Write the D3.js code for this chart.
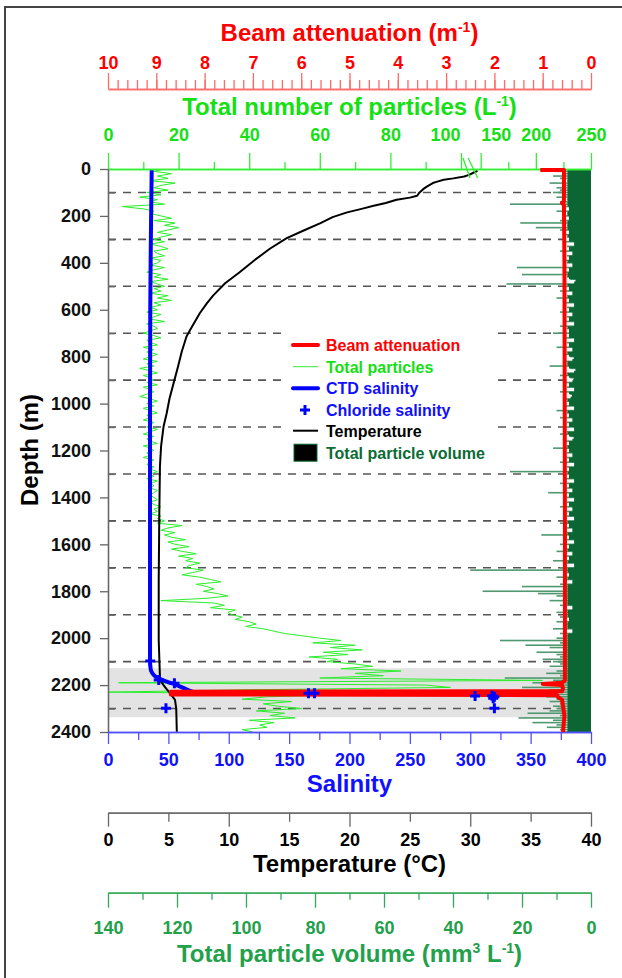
<!DOCTYPE html>
<html><head><meta charset="utf-8">
<script src="https://cdn.jsdelivr.net/npm/d3@7"></script>
<style>
body{margin:0;background:#fff}
svg{display:block}
text{font-family:"Liberation Sans",Arial,sans-serif;font-weight:bold}
</style>
</head><body>
<svg id="c" width="622" height="978"></svg>
<script>
// ---------------- DATA ----------------
const beamTickValues = [10, 9, 8, 7, 6, 5, 4, 3, 2, 1, 0];
const particleTickValues = [0, 20, 40, 60, 80, 100, 150, 200, 250];
const particleMinorTicks = [10, 30, 50, 70, 90, 175, 225];
const depthTickValues = [0, 200, 400, 600, 800, 1000, 1200, 1400, 1600, 1800, 2000, 2200, 2400];
const depthDashed = [100, 300, 500, 700, 900, 1100, 1300, 1500, 1700, 1900, 2100, 2300];
const salinityTickValues = [0, 50, 100, 150, 200, 250, 300, 350, 400];
const temperatureTickValues = [0, 5, 10, 15, 20, 25, 30, 35, 40];
const volumeTickValues = [140, 120, 100, 80, 60, 40, 20, 0];
const shadedDepths = [2128, 2337];

// Temperature profile [°C, depth m]
const temperature = [
  [30.6, 8], [30.3, 15], [29.9, 25], [29.5, 32], [28.6, 40], [27.8, 46], [27.2, 55], [26.9, 60],
  [26.4, 75], [26.1, 86], [25.8, 100], [25.6, 114], [25.0, 122], [23.9, 131], [23.0, 145],
  [22.0, 157], [21.0, 170], [19.8, 185], [18.6, 205], [17.6, 231], [16.3, 260], [14.8, 295],
  [13.4, 340], [12.0, 394], [10.9, 440], [9.7, 487], [8.7, 540], [8.2, 572], [7.6, 615],
  [6.8, 686], [6.5, 714], [6.1, 780], [5.8, 842], [5.5, 900], [5.1, 977], [4.86, 1041],
  [4.6, 1098], [4.4, 1180], [4.3, 1269], [4.25, 1467], [4.2, 1752], [4.2, 2008], [4.3, 2163],
  [4.4, 2185], [4.6, 2200], [4.9, 2220], [5.15, 2235], [5.55, 2263], [5.65, 2300], [5.7, 2400]
];

// CTD salinity [salinity, depth m]
const ctdSalinity = [
  [36.2, 0], [35.5, 300], [35.0, 600], [34.8, 1000], [34.8, 1500], [34.8, 2000], [34.8, 2094],
  [35.3, 2130], [36.0, 2143], [38.5, 2160], [41.7, 2171], [48.6, 2185], [56.9, 2200],
  [65, 2218], [70, 2228], [75, 2232], [80, 2233]
];

// Chloride salinity [salinity, depth m]
const chlorideSalinity = [
  [35, 2097], [42, 2178], [55, 2192], [48, 2299], [166, 2235], [171, 2235],
  [304, 2247], [318, 2245], [320, 2250], [319, 2256], [320, 2299]
];

// Beam attenuation [m-1, depth m]
const beamAttenuation = [
  [1.05, 4], [0.56, 4], [0.56, 138], [0.6, 145], [0.56, 152], [0.55, 400], [0.54, 1500],
  [0.54, 2180], [0.6, 2190], [1.0, 2195], [0.6, 2200], [0.58, 2215], [0.6, 2226],
  [8.7, 2228], [8.7, 2240], [0.7, 2243], [0.68, 2252], [0.6, 2262], [0.55, 2330], [0.58, 2400]
];

// Sampling grid (m) for the particle profiles
const depthGrid = d3.range(0, 2401, 10);

// Total number of particles (L-1), one value per 10 m
const totalParticles = [
  16, 13, 18, 14, 17, 12, 19, 15, 13, 17,
  11, 15, 9, 14, 12, 16, 4, 10, 13, 12,
  15, 18, 13, 19, 16, 20, 17, 14, 18, 15,
  13, 16, 12, 15, 17, 13, 14, 16, 12, 15,
  14, 12, 16, 13, 11, 15, 13, 17, 12, 14,
  16, 13, 15, 12, 17, 14, 18, 13, 15, 12,
  14, 11, 15, 13, 12, 16, 11, 13, 14, 12,
  10, 13, 15, 11, 12, 14, 10, 13, 11, 14,
  12, 10, 14, 11, 13, 9, 12, 14, 10, 12,
  13, 11, 14, 10, 12, 13, 11, 9, 12, 14,
  11, 13, 10, 12, 14, 11, 12, 10, 13, 12,
  11, 14, 12, 10, 13, 11, 12, 14, 10, 12,
  13, 11, 12, 10, 13, 12, 11, 13, 12, 14,
  12, 13, 11, 14, 12, 13, 12, 14, 13, 12,
  13, 14, 12, 13, 15, 13, 14, 12, 15, 14,
  16, 14, 21, 17, 15, 19, 16, 18, 22, 17,
  19, 23, 18, 21, 25, 20, 24, 22, 26, 23,
  22, 27, 24, 21, 26, 29, 32, 25, 28, 30,
  27, 31, 34, 28, 15, 30, 33, 29, 36, 34,
  35, 38, 36, 40, 42, 39, 44, 47, 50, 55,
  60, 66, 58, 70, 63, 72, 61, 68, 57, 65,
  62, 70, 75, 66, 83, 70, 78, 60, 206, 3,
  90, 97, 40, 0, 70, 45, 38, 52, 44, 48,
  55, 42, 50, 46, 53, 40, 47, 43, 45, 38,
  41
];

// Total particle volume (mm3 L-1), one value per 10 m
const particleVolume = [
  7, 10, 8, 11, 9, 7, 12, 8, 10, 9,
  11, 8, 10, 7, 9, 23.5, 8, 6, 10, 7,
  8, 6, 9, 20.5, 7, 16, 9, 6, 8, 7,
  6, 8, 3, 7, 6, 9, 4, 7, 6, 8,
  7, 4, 21.5, 6, 8, 20, 7, 6, 3, 24.5,
  8, 6, 9, 4, 7, 10, 6, 8, 3, 7,
  6, 9, 4, 7, 6, 8, 3, 9, 7, 6,
  11, 6, 8, 3, 7, 6, 10, 4, 7, 8,
  6, 4, 8, 7, 12, 6, 3, 7, 9, 6,
  4, 8, 6, 7, 3, 9, 6, 5, 8, 7,
  6, 8, 3, 10, 7, 6, 9, 4, 7, 6,
  8, 3, 7, 9, 6, 4, 8, 6, 7, 11,
  6, 7, 4, 8, 6, 9, 3, 7, 6, 23.5,
  7, 6, 8, 3, 9, 6, 7, 4, 12.4, 6,
  8, 3, 7, 6, 9, 4, 8, 6, 7, 3,
  7, 9, 6, 8, 4, 7, 14.4, 6, 8, 3,
  9, 6, 7, 10, 4, 8, 6, 11, 7, 3,
  9, 35, 7, 6, 10, 8, 4, 9, 20, 7,
  31.4, 15.4, 10, 8, 12, 7, 9, 4, 8, 10,
  7, 9, 6, 10, 8, 7, 11, 4, 9, 8,
  10, 26.4, 9, 19, 12, 8, 15.8, 10, 9, 14,
  11, 9, 12, 8, 10, 13, 9, 25, 11, 17,
  10, 20, 12, 9, 11, 13, 10, 12, 9, 11,
  10, 12, 18.4, 9, 21, 11, 17, 10, 12.8, 9,
  8
];

const legendItems = [
  {label: "Beam attenuation", color: "#ff0000", type: "thick", stroke: "#ff0000"},
  {label: "Total particles", color: "#14e014", type: "thin", stroke: "#33ee33"},
  {label: "CTD salinity", color: "#1010ff", type: "thick", stroke: "#0000ff"},
  {label: "Chloride salinity", color: "#1010ff", type: "cross", stroke: "#0000ff"},
  {label: "Temperature", color: "#000000", type: "medium", stroke: "#000000"},
  {label: "Total particle volume", color: "#0b6b35", type: "box", stroke: "#000000"}
];

// ---------------- CHART ----------------
const FONT = '"Liberation Sans",Arial,sans-serif';
const svg = d3.select('#c');
const L = 108, R = 591, T = 169, B = 732;
const CX = (L + R) / 2;

const y = d3.scaleLinear().domain([0, 2400]).range([T, B]);
const xSal = d3.scaleLinear().domain([0, 400]).range([L, R]);
const xTemp = d3.scaleLinear().domain([0, 40]).range([L, R]);
const xBeam = d3.scaleLinear().domain([10, 0]).range([L, R]);
const xVol = d3.scaleLinear().domain([140, 0]).range([L, R]);
const xPart = d3.scaleLinear().domain([0, 100, 150, 250])
  .range([L, L + (R - L) * 0.7308, L + (R - L) * 0.7716, R]);

// frame
svg.append('path').attr('d', 'M5,978V7H622').attr('fill', 'none')
  .attr('stroke', '#444').attr('stroke-width', 2);

// clip
svg.append('clipPath').attr('id', 'plot').append('rect')
  .attr('x', L).attr('y', T).attr('width', R - L).attr('height', B - T);

const plot = svg.append('g').attr('clip-path', 'url(#plot)');

// shaded band
plot.append('rect').attr('x', L).attr('width', R - L)
  .attr('y', y(shadedDepths[0])).attr('height', y(shadedDepths[1]) - y(shadedDepths[0]))
  .attr('fill', '#e3e3e3');

// dashed lines
plot.selectAll('line.dash').data(depthDashed).join('line').attr('class', 'dash')
  .attr('x1', L).attr('x2', R).attr('y1', d => y(d)).attr('y2', d => y(d))
  .attr('stroke', '#555').attr('stroke-width', 1.6).attr('stroke-dasharray', '8,7');

// legend background
const LG = {x: 284, y: 326, w: 213, h: 140};
svg.append('rect').attr('x', LG.x).attr('y', LG.y).attr('width', LG.w).attr('height', LG.h).attr('fill', '#fff');

// particle volume: thin light bars at every sample + dark dense core
plot.append('g').selectAll('rect').data(particleVolume).join('rect')
  .attr('x', d => xVol(d)).attr('width', d => xVol(0) - xVol(d))
  .attr('y', (d, i) => y(depthGrid[i]) - 0.8).attr('height', 1.6)
  .attr('fill', '#4f9870');
const coreCap = 6.8;
plot.append('path').datum(particleVolume)
  .attr('d', d3.area().curve(d3.curveStep)
    .y((d, i) => y(depthGrid[i]))
    .x0(xVol(0)).x1(d => xVol(Math.min(d, coreCap))))
  .attr('fill', '#0b6634');

// total particles
plot.append('path').datum(totalParticles)
  .attr('d', d3.line().x(d => xPart(d)).y((d, i) => y(depthGrid[i])))
  .attr('fill', 'none').attr('stroke', '#2bee2b').attr('stroke-width', 1);

// temperature
plot.append('path').datum(temperature)
  .attr('d', d3.line().x(d => xTemp(d[0])).y(d => y(d[1])))
  .attr('fill', 'none').attr('stroke', '#000').attr('stroke-width', 2).attr('stroke-linejoin', 'round');

// CTD salinity
plot.append('path').datum(ctdSalinity)
  .attr('d', d3.line().x(d => xSal(d[0])).y(d => y(d[1])).curve(d3.curveMonotoneY))
  .attr('fill', 'none').attr('stroke', '#0000ff').attr('stroke-width', 4).attr('stroke-linejoin', 'round');

// ---------------- AXES ----------------
function styleText(sel, size, color, weight) {
  sel.attr('font-size', size).attr('font-family', FONT).attr('font-weight', weight || 'bold').attr('fill', color);
}
function makeAxis(transform, axisFn, scale, majors, minors, majLen, minLen, pad, lineColor, textColor, minorPad) {
  const g = svg.append('g').attr('transform', transform);
  const gmin = g.append('g').call(axisFn(scale).tickValues(minors).tickSizeInner(minLen).tickSizeOuter(0)
    .tickPadding(minorPad == null ? 3 : minorPad).tickFormat(minorPad == null ? () => '' : d3.format('d')));
  const gmaj = g.append('g').call(axisFn(scale).tickValues(majors).tickSizeInner(majLen).tickSizeOuter(0)
    .tickPadding(pad).tickFormat(d3.format('d')));
  g.selectAll('path.domain').attr('stroke', lineColor).attr('stroke-width', 1.3);
  g.selectAll('.tick line').attr('stroke', lineColor).attr('stroke-width', 1.3);
  styleText(gmaj.selectAll('text'), 18, textColor);
  styleText(gmin.selectAll('text'), 18, textColor, 'normal');
  return {g, gmaj, gmin};
}

// beam (top)
makeAxis('translate(0,89)', d3.axisTop, xBeam, beamTickValues, d3.range(0.2, 10, 0.2), 16, 9, 4.5, '#ff6a6a', '#ff0000');
// particles (top of plot)
const pa = makeAxis(`translate(0,${T})`, d3.axisTop, xPart, particleTickValues, particleMinorTicks, 16, 7, 12.5, '#33ee33', '#14e014');
pa.gmaj.selectAll('.tick text').each(function (d) {
  if (d === 100) d3.select(this).attr('text-anchor', 'end').attr('x', -1);
  if (d === 150) d3.select(this).attr('text-anchor', 'start').attr('x', 0);
});
// axis break marks
{
  const xa = xPart(100), xb = xPart(150);
  svg.append('path')
    .attr('d', `M${xa + 2},${T - 11}L${xa + 9},${T + 9}M${xb - 12.5},${T - 11}L${xb - 3},${T + 9}`)
    .attr('stroke', '#33ee33').attr('stroke-width', 1.3).attr('fill', 'none');
}
// depth (left)
makeAxis(`translate(${L},0)`, d3.axisLeft, y, depthTickValues, depthDashed, 8, -7, 9, '#666', '#111');
// salinity (bottom of plot)
makeAxis(`translate(0,${B})`, d3.axisBottom, xSal, salinityTickValues, d3.range(25, 400, 50), 12, 8, 9.7, '#5050ff', '#1010ff');
// temperature
makeAxis('translate(0,812.7)', d3.axisBottom, xTemp, temperatureTickValues.filter(d => d % 10 === 0),
  temperatureTickValues.filter(d => d % 10 !== 0), 14, 9, 7, '#666', '#000', 12);
// volume
makeAxis('translate(0,892.7)', d3.axisBottom, xVol, volumeTickValues, d3.range(10, 140, 20), 15, 7, 14, '#33a85a', '#22a04a');

// beam attenuation (drawn above the axes so the surface segment shows fully)
svg.append('path').datum(beamAttenuation)
  .attr('d', d3.line().x(d => xBeam(d[0])).y(d => y(d[1])))
  .attr('fill', 'none').attr('stroke', '#ff0000').attr('stroke-width', 4).attr('stroke-linejoin', 'round');

// chloride salinity crosses
svg.append('g').selectAll('path').data(chlorideSalinity).join('path')
  .attr('transform', d => `translate(${xSal(d[0])},${y(d[1])})`)
  .attr('d', 'M-5,0H5M0,-5V5').attr('stroke', '#0000ff').attr('stroke-width', 3);

// ---------------- TITLES ----------------
function title(x, yb, color, parts) {
  const t = svg.append('text').attr('x', x).attr('y', yb).attr('text-anchor', 'middle');
  styleText(t, 24, color);
  parts.forEach(p => {
    const s = t.append('tspan').text(p.t);
    if (p.sup) s.attr('font-size', 14).attr('dy', -9);
    if (p.after) s.attr('dy', 9);
  });
  return t;
}
title(CX, 41, '#ff0000', [{t: 'Beam attenuation (m'}, {t: '-1', sup: true}, {t: ')', after: true}]);
title(CX, 115, '#14e014', [{t: 'Total number of particles (L'}, {t: '-1', sup: true}, {t: ')', after: true}]);
title(CX, 792, '#1010ff', [{t: 'Salinity'}]);
title(CX, 872, '#000', [{t: 'Temperature (°C)'}]);
title(CX, 962, '#22a04a', [{t: 'Total particle volume (mm'}, {t: '3', sup: true}, {t: ' L', after: true}, {t: '-1', sup: true}, {t: ')', after: true}]);
{
  const t = svg.append('text').attr('transform', 'translate(38,450) rotate(-90)').attr('text-anchor', 'middle').text('Depth (m)');
  styleText(t, 24, '#000');
}

// ---------------- LEGEND ----------------
const rowY = [345, 366.7, 388.3, 410, 430.7, 452.7];
const lg = svg.append('g');
legendItems.forEach((it, i) => {
  const cy = rowY[i];
  if (it.type === 'thick' || it.type === 'thin' || it.type === 'medium') {
    lg.append('line').attr('x1', 293).attr('x2', 318).attr('y1', cy).attr('y2', cy)
      .attr('stroke', it.stroke).attr('stroke-width', it.type === 'thick' ? 4 : it.type === 'thin' ? 1 : 2)
      .attr('stroke-linecap', it.type === 'thick' ? 'round' : 'butt');
  } else if (it.type === 'cross') {
    lg.append('path').attr('transform', `translate(305,${cy})`).attr('d', 'M-5,0H5M0,-5V5')
      .attr('stroke', it.stroke).attr('stroke-width', 3);
  } else {
    lg.append('rect').attr('x', 294).attr('y', cy - 8.5).attr('width', 23).attr('height', 17)
      .attr('fill', '#000').attr('stroke', '#0b6b35').attr('stroke-width', 1);
  }
  const t = lg.append('text').attr('x', 326).attr('y', cy + 5.8).text(it.label);
  styleText(t, 16, it.color);
});
</script>
</body></html>
